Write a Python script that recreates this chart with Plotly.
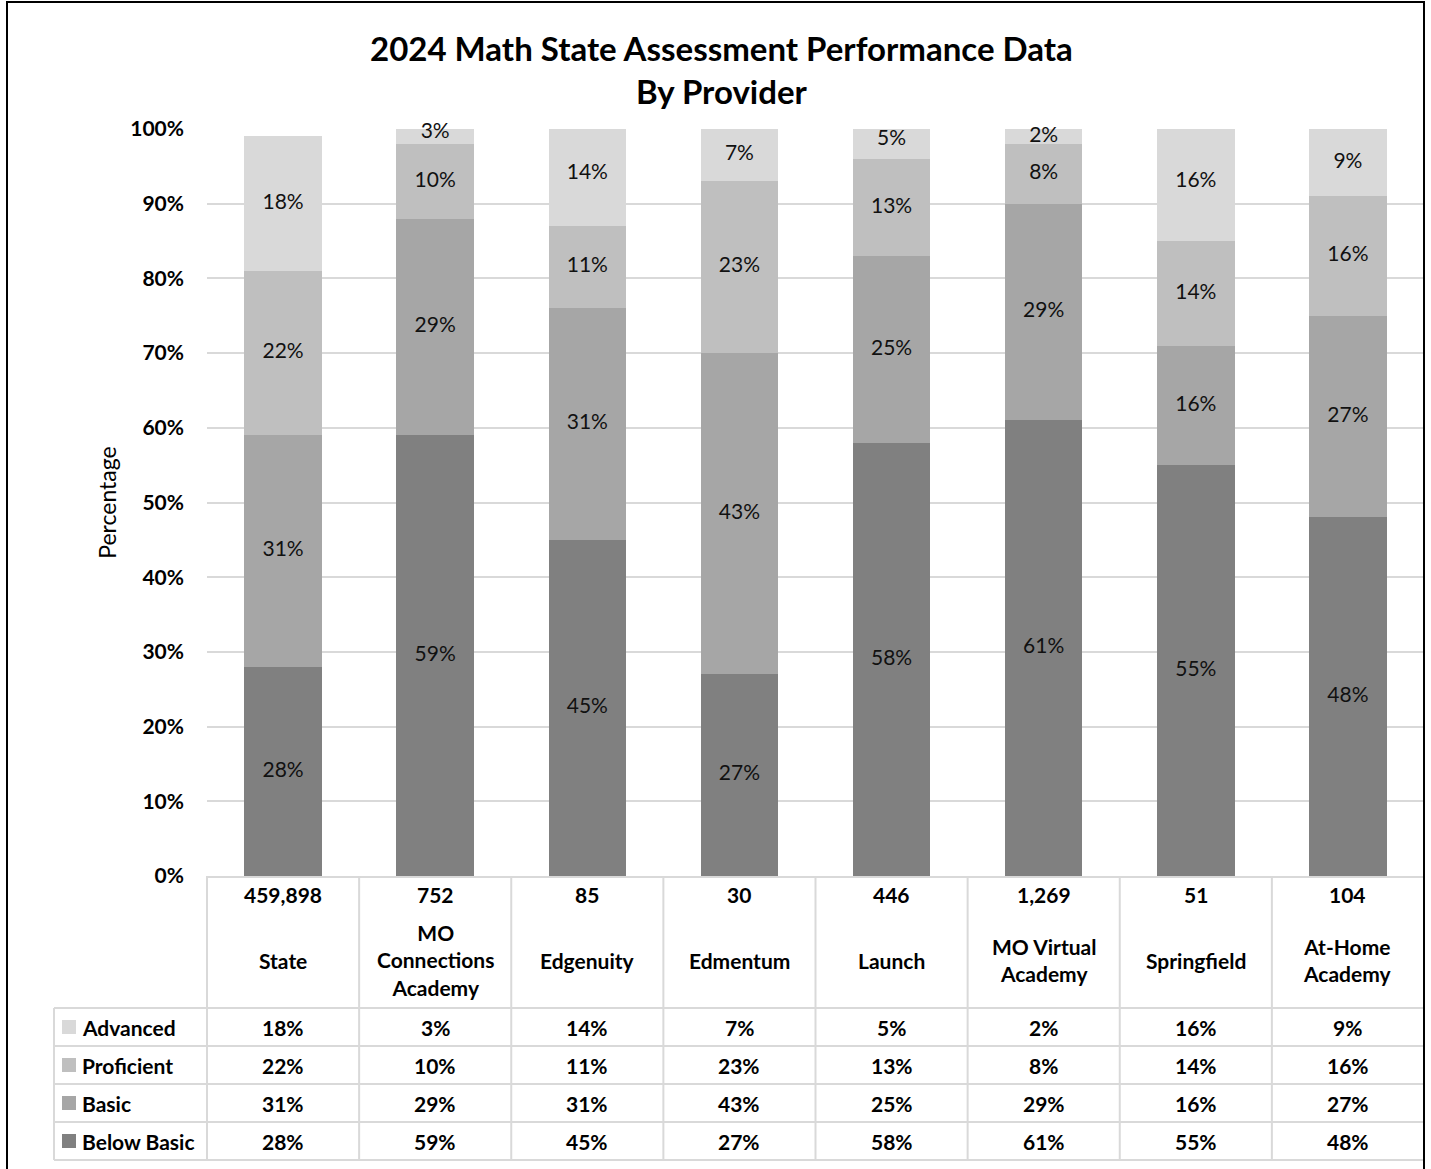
import plotly.graph_objects as go

categories = ["State", "MO Connections Academy", "Edgenuity", "Edmentum", "Launch",
              "MO Virtual Academy", "Springfield", "At-Home Academy"]
category_labels = ["State", "MO<br>Connections<br>Academy", "Edgenuity", "Edmentum", "Launch",
                   "MO Virtual<br>Academy", "Springfield", "At-Home<br>Academy"]
counts = [459898, 752, 85, 30, 446, 1269, 51, 104]

below_basic = [28, 59, 45, 27, 58, 61, 55, 48]
basic = [31, 29, 31, 43, 25, 29, 16, 27]
proficient = [22, 10, 11, 23, 13, 8, 14, 16]
advanced = [18, 3, 14, 7, 5, 2, 16, 9]

series_names = ["Below Basic", "Basic", "Proficient", "Advanced"]
series_values = [below_basic, basic, proficient, advanced]
series_colors = ["#808080", "#a6a6a6", "#bfbfbf", "#d9d9d9"]

W, H = 1431, 1169
L, R, T, B = 207, 1424, 129, 876
FONT = "Lato"
TS = 21  # table font size

fig = go.Figure()
base = [0] * len(categories)
label_traces = []
for name, vals, col in zip(series_names, series_values, series_colors):
    fig.add_trace(go.Bar(
        x=categories, y=vals, name=name, marker=dict(color=col, line=dict(width=0)),
        showlegend=False, hoverinfo="skip",
    ))
    mids = [b + v / 2 for b, v in zip(base, vals)]
    label_traces.append(go.Scatter(
        x=categories, y=mids, mode="text", text=[f"{v}%" for v in vals],
        textposition="middle center", textfont=dict(family=FONT, size=21, color="#111111"),
        cliponaxis=False, showlegend=False, hoverinfo="skip",
    ))
    base = [b + v for b, v in zip(base, vals)]
for tr in label_traces:
    fig.add_trace(tr)

def py(ypx):
    return (B - ypx) / (B - T)

def px(xpx):
    return (xpx - L) / (R - L)

annotations = []
shapes = []
grid = "#d9d9d9"

# title
annotations.append(dict(text="<b>2024 Math State Assessment Performance Data<br>By Provider</b>",
                        xref="paper", yref="paper", x=px(721), y=py(70), xanchor="center", yanchor="middle",
                        showarrow=False, font=dict(family=FONT, size=33, color="#000000")))

# header rows: counts and names
for i, c in enumerate(categories):
    annotations.append(dict(text=f"<b>{counts[i]:,}</b>", xref="x", yref="paper", x=c, y=py(894),
                            showarrow=False, xanchor="center", yanchor="middle",
                            font=dict(family=FONT, size=TS, color="#000")))
    annotations.append(dict(text=f"<b>{category_labels[i]}</b>", xref="x", yref="paper", x=c, y=py(960),
                            showarrow=False, xanchor="center", yanchor="middle",
                            font=dict(family=FONT, size=TS, color="#000")))

# data rows
row_order = ["Advanced", "Proficient", "Basic", "Below Basic"]
row_top = [1008, 1046, 1084, 1122]
row_h = 38
for r, rn in enumerate(row_order):
    vals = series_values[series_names.index(rn)]
    col = series_colors[series_names.index(rn)]
    yc = row_top[r] + row_h / 2
    for i, c in enumerate(categories):
        annotations.append(dict(text=f"<b>{vals[i]}%</b>", xref="x", yref="paper", x=c, y=py(yc),
                                showarrow=False, xanchor="center", yanchor="middle",
                                font=dict(family=FONT, size=TS, color="#000")))
    annotations.append(dict(text=f"<b>{rn}</b>", xref="paper", yref="paper", x=px(80), y=py(yc),
                            showarrow=False, xanchor="left", yanchor="middle",
                            font=dict(family=FONT, size=TS, color="#000")))
    shapes.append(dict(type="rect", xref="paper", yref="paper", x0=px(62), x1=px(76),
                       y0=py(yc - 7), y1=py(yc + 7), fillcolor=col, line=dict(width=0)))

# table lines
col_w = (R - L) / len(categories)
for k in range(len(categories) + 1):
    xx = L + k * col_w
    shapes.append(dict(type="line", xref="paper", yref="paper", x0=px(xx), x1=px(xx),
                       y0=py(B), y1=py(1160), line=dict(color=grid, width=2)))
shapes.append(dict(type="line", xref="paper", yref="paper", x0=px(54), x1=px(54),
                   y0=py(1008), y1=py(1160), line=dict(color=grid, width=2)))
for yy in row_top + [1160]:
    shapes.append(dict(type="line", xref="paper", yref="paper", x0=px(54), x1=px(R),
                       y0=py(yy), y1=py(yy), line=dict(color=grid, width=2)))

# outer border
shapes.append(dict(type="rect", xref="paper", yref="paper", x0=px(7), x1=px(1424),
                   y0=py(1175), y1=py(2), line=dict(color="#000000", width=2), fillcolor="rgba(0,0,0,0)"))

fig.update_layout(
    width=W, height=H, barmode="stack", bargap=0.49,
    margin=dict(l=L, r=W - R, t=T, b=H - B, pad=0),
    paper_bgcolor="white", plot_bgcolor="white",
    font=dict(family=FONT, color="#000"),
    annotations=annotations, shapes=shapes,
    xaxis=dict(showticklabels=False, showgrid=False, showline=True, linecolor=grid, linewidth=2,
               ticks="", fixedrange=True),
    yaxis=dict(range=[0, 100], dtick=10, ticksuffix="%", showgrid=True, gridcolor=grid, gridwidth=2,
               zeroline=False, showline=False, ticks="", ticklabelstandoff=22, fixedrange=True,
               tickfont=dict(family=FONT, size=21, color="#000", weight="bold"),
               title=dict(text="Percentage", standoff=7, font=dict(family=FONT, size=23, color="#000"))),
)

fig.write_html("out.html", config={"displayModeBar": False},
               post_script="document.body.style.margin='0';document.body.style.padding='0';"
                           "document.body.style.overflow='hidden';")
